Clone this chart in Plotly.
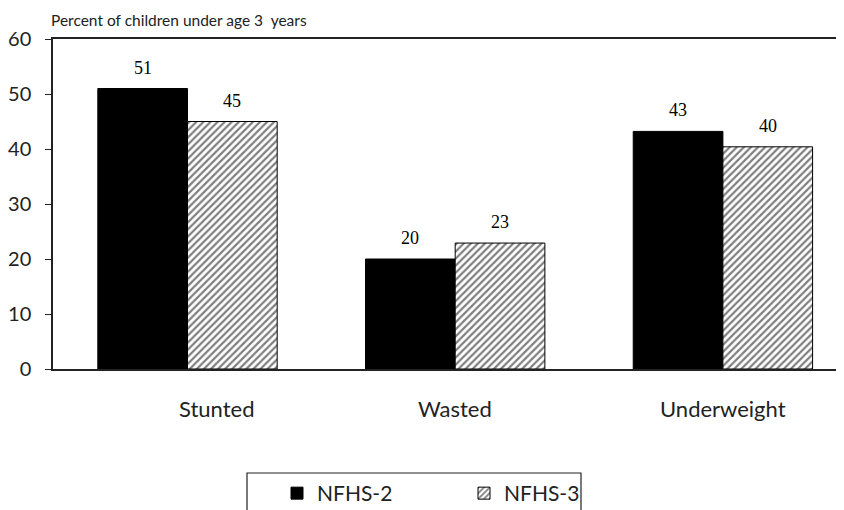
import plotly.graph_objects as go

categories = ["Stunted", "Wasted", "Underweight"]
nfhs2 = [51, 20, 43.2]
nfhs3 = [45, 22.9, 40.4]
series_names = ["NFHS-2", "NFHS-3"]
y_ticks = [0, 10, 20, 30, 40, 50, 60]
y_title = "Percent of children under age 3  years"

# browser body margin offset (page coords -> figure coords)
OFF = 8
FIG_W, FIG_H = 844, 510
plot_left, plot_top, plot_bottom = 53 - OFF, 39 - OFF, 369 - OFF
plot_right = FIG_W
pw = plot_right - plot_left
ph = plot_bottom - plot_top


def px(xw):
    return (xw - OFF - plot_left) / pw


def py(yw):
    return (plot_bottom - (yw - OFF)) / ph


xpos = list(range(len(categories)))
W = 0.335
unit = 267.7
x0 = -(187.5 - 53) / unit
x1 = x0 + pw / unit

fig = go.Figure()
fig.add_trace(go.Bar(
    x=xpos, y=nfhs2, name=series_names[0], width=W, offset=-W,
    marker=dict(color="black", line=dict(color="black", width=1)),
))
fig.add_trace(go.Bar(
    x=xpos, y=nfhs3, name=series_names[1], width=W, offset=0,
    marker=dict(color="white", line=dict(color="black", width=1),
                pattern=dict(shape="/", fgcolor="black", bgcolor="white",
                             size=5, solidity=0.45)),
))

annotations = []
for i, v in enumerate(nfhs2):
    annotations.append(dict(x=i - W / 2, y=v, xref="x", yref="y", text=f"{v:.0f}",
                            showarrow=False, yanchor="bottom", yshift=9,
                            font=dict(family="Liberation Serif", size=18, color="black")))
for i, v in enumerate(nfhs3):
    annotations.append(dict(x=i + W / 2, y=v, xref="x", yref="y", text=f"{v:.0f}",
                            showarrow=False, yanchor="bottom", yshift=9,
                            font=dict(family="Liberation Serif", size=18, color="black")))
label_shift = [29, 0, 0]
for i, c in enumerate(categories):
    annotations.append(dict(x=i, y=0, xref="x", yref="y", text=c, showarrow=False,
                            yanchor="middle", yshift=-39, xshift=label_shift[i],
                            font=dict(family="Lato", size=22, color="#222")))
annotations.append(dict(x=px(49), y=py(20), xref="paper", yref="paper", text=y_title,
                        showarrow=False, xanchor="left", yanchor="middle",
                        font=dict(family="Lato", size=15.5, color="#222")))

shapes = [dict(type="rect", xref="paper", yref="paper",
               x0=px(247), x1=px(581), y0=py(473), y1=py(540),
               line=dict(color="#222", width=1.2), fillcolor="rgba(0,0,0,0)")]

fig.update_layout(
    width=FIG_W, height=FIG_H,
    margin=dict(l=plot_left, r=0, t=plot_top, b=FIG_H - plot_bottom, pad=0),
    paper_bgcolor="white", plot_bgcolor="white",
    barmode="overlay",
    showlegend=True,
    legend=dict(orientation="h", x=px(277), xanchor="left",
                y=py(473), yanchor="top",
                borderwidth=0, bgcolor="rgba(0,0,0,0)",
                entrywidth=142,
                font=dict(family="Lato", size=21, color="#222")),
    annotations=annotations,
    shapes=shapes,
    xaxis=dict(range=[x0, x1],
               showticklabels=False, ticks="", showgrid=False, zeroline=False,
               showline=True, linecolor="#222", linewidth=1.5, mirror=True),
    yaxis=dict(range=[0, 60], tickvals=y_ticks, ticks="outside", ticklen=6,
               tickcolor="#222", showgrid=False, zeroline=False,
               showline=True, linecolor="#222", linewidth=1.5,
               tickfont=dict(family="Lato", size=20, color="#222"),
               ticklabelstandoff=10),
)

fig.write_html("out.html")
